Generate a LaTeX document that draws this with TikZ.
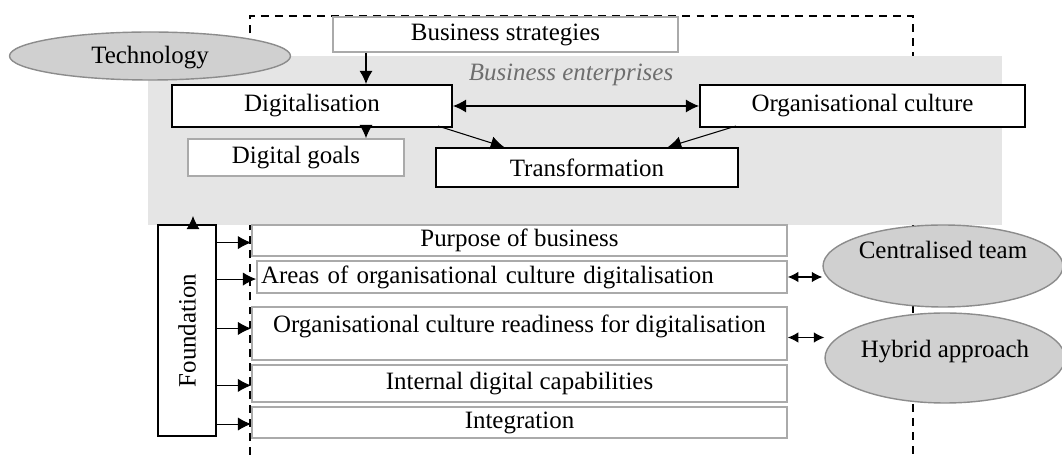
\documentclass[tikz,border=0pt]{standalone}
\usepackage{fontspec}
\setmainfont{Liberation Serif}
\usetikzlibrary{shapes.geometric,arrows.meta,calc}
\definecolor{bggray}{RGB}{229,229,229}
\definecolor{ovalgray}{RGB}{208,208,208}
\definecolor{ovalline}{RGB}{140,140,140}
\definecolor{boxline}{RGB}{170,170,170}
\definecolor{labgray}{RGB}{110,110,110}
\tikzset{
  blackbox/.style={draw=black, line width=1.2pt, fill=white, inner sep=0pt},
  graybox/.style={draw=boxline, line width=1pt, fill=white, inner sep=0pt},
  oval/.style={ellipse, draw=ovalline, line width=0.8pt, fill=ovalgray, inner sep=0pt},
  arr/.style={line width=0.6pt, -{Latex[length=7.5pt,width=7.5pt]}},
  twoarr/.style={line width=0.6pt, {Latex[length=7.5pt,width=7.5pt]}-{Latex[length=7.5pt,width=7.5pt]}},
  dblarr/.style={line width=0.6pt, {Latex[length=6pt,width=6pt]}-{Latex[length=6pt,width=6pt]}},
  dashline/.style={line width=1pt, dash pattern=on 4.5pt off 3.5pt}
}
\begin{document}
\begin{tikzpicture}[x=0.02cm, y=-0.02cm, font=\fontsize{14.2}{17}\selectfont]
\useasboundingbox (0,0) rectangle (1062,455);
\draw [dashline] (250,455) -- (250,16) -- (913,16) -- (913,455);
\path [fill=bggray] (148,56) rectangle (1002,225);
\node [oval, minimum width=5.62cm, minimum height=0.96cm, text height=0.4cm, text depth=0.08cm] (tech) at (150,56) {Technology};
\node [graybox, minimum width=6.9cm, minimum height=0.7cm] (bstrat) at (505.5,34.5) {Business strategies};
\node [text=labgray, font=\fontsize{14.2}{17}\selectfont\itshape] (bent) at (571,75) {Business enterprises};
\node [blackbox, minimum width=5.6cm, minimum height=0.84cm] (dig) at (312,106) {Digitalisation};
\node [blackbox, minimum width=6.5cm, minimum height=0.84cm] (org) at (862.5,106) {Organisational culture};
\node [graybox, minimum width=4.32cm, minimum height=0.74cm] (goals) at (296,157.5) {Digital goals};
\node [blackbox, minimum width=6.04cm, minimum height=0.78cm] (trans) at (587,167.5) {Transformation};
\coordinate (dx) at (366,0);
\draw [arr] (bstrat.south -| dx) -- (dig.north -| dx);
\draw [arr] (dig.south -| dx) -- (goals.north -| dx);
\draw [twoarr] (dig.east) -- (org.west);
\draw [arr] ($(dig.south east)+(-15,-2)$) -- ($(trans.north west)+(69,0)$);
\draw [arr] ($(org.south west)+(37,-2)$) -- ($(trans.north east)+(-71,0)$);
\node [graybox, minimum width=10.7cm, minimum height=0.62cm] (p1) at (519.5,240.5) {Purpose of business};
\node [graybox, minimum width=10.6cm, minimum height=0.64cm, text width=10.44cm, align=left] (p2) at (522,277) {Areas of organisational culture digitalisation};
\node [graybox, minimum width=10.7cm, text height=0.51cm, text depth=0.55cm] (p3) at (519.5,333.5) {Organisational culture readiness for digitalisation};
\node [graybox, minimum width=10.7cm, minimum height=0.74cm] (p4) at (519.5,383.5) {Internal digital capabilities};
\node [graybox, minimum width=10.7cm, minimum height=0.62cm] (p5) at (519.5,422.5) {Integration};
\node [blackbox, minimum width=1.16cm, minimum height=4.22cm] (found) at (187,330.5) {\rotatebox{90}{Foundation}};
\coordinate (fup) at (193,216);
\draw [arr] (found.north -| fup) -- (fup);
\foreach \p in {p1,p2,p3,p4,p5}
  \draw [arr] (found.east |- \p.mid west) -- (\p.mid west);
\node [oval, minimum width=4.8cm, minimum height=1.64cm, text height=0.2cm, text depth=0.48cm] (cteam) at (943,266) {Centralised team};
\node [oval, minimum width=4.8cm, minimum height=1.8cm, text height=0.3cm, text depth=0.3cm] (hyb) at (945,358) {Hybrid approach};
\draw [dblarr] (p2.east) -- (p2.east -| cteam.west);
\draw [dblarr] ($(p3.east)+(0,4)$) -- ($(p3.east -| hyb.west)+(0,4)$);
\end{tikzpicture}
\end{document}
